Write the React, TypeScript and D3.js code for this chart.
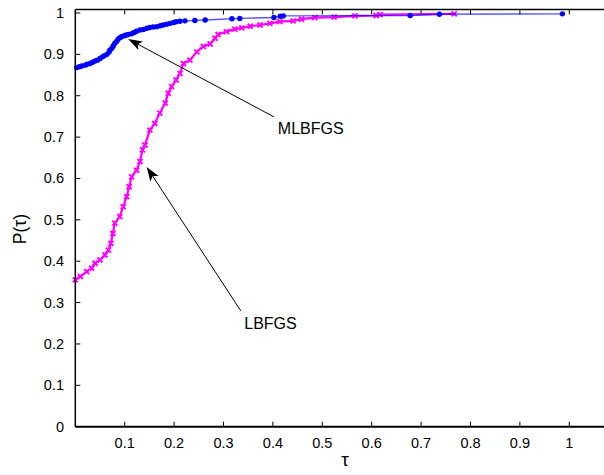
import React, { useRef, useEffect } from "react";
import * as d3 from "d3";

const W = 604;
const H = 475;
const FONT = "'Liberation Sans', Arial, sans-serif";

// MLBFGS profile (blue, dots)
const mlbfgsTau = [
  0.003, 0.008, 0.013, 0.02, 0.024, 0.03, 0.035, 0.04, 0.045, 0.05, 0.055,
  0.059, 0.064, 0.068, 0.07, 0.074, 0.077, 0.08, 0.084, 0.087, 0.091, 0.094,
  0.099, 0.103, 0.107, 0.114, 0.119, 0.124, 0.131, 0.138, 0.145, 0.151,
  0.158, 0.165, 0.172, 0.178, 0.185, 0.192, 0.199, 0.204, 0.212, 0.222,
  0.242, 0.263, 0.317, 0.333, 0.402, 0.415, 0.421, 0.678, 0.737, 0.986,
];
const mlbfgsP = [
  0.868, 0.87, 0.872, 0.874, 0.876, 0.878, 0.881, 0.884, 0.886, 0.89, 0.894,
  0.897, 0.9, 0.905, 0.91, 0.915, 0.921, 0.927, 0.932, 0.937, 0.941, 0.943,
  0.945, 0.947, 0.948, 0.95, 0.953, 0.956, 0.959, 0.96, 0.963, 0.965, 0.966,
  0.967, 0.969, 0.971, 0.973, 0.975, 0.977, 0.979, 0.98, 0.981, 0.982, 0.983,
  0.986, 0.987, 0.989, 0.992, 0.993, 0.994, 0.997, 0.998,
];

// LBFGS profile (magenta, crosses)
const lbfgsTau = [
  0.0, 0.01, 0.023, 0.033, 0.04, 0.05, 0.06, 0.067, 0.072, 0.076, 0.08, 0.09,
  0.097, 0.104, 0.109, 0.114, 0.124, 0.131, 0.136, 0.141, 0.151, 0.161, 0.171,
  0.182, 0.188, 0.195, 0.204, 0.212, 0.219, 0.232, 0.246, 0.259, 0.273,
  0.283, 0.289, 0.306, 0.323, 0.337, 0.354, 0.374, 0.394, 0.414, 0.441,
  0.458, 0.485, 0.524, 0.566, 0.609, 0.617, 0.767,
];
const lbfgsP = [
  0.355, 0.363, 0.375, 0.383, 0.395, 0.403, 0.415, 0.427, 0.443, 0.467, 0.492,
  0.508, 0.532, 0.556, 0.58, 0.604, 0.62, 0.641, 0.669, 0.681, 0.717, 0.733,
  0.758, 0.782, 0.806, 0.822, 0.838, 0.854, 0.878, 0.886, 0.906, 0.919,
  0.925, 0.939, 0.948, 0.955, 0.961, 0.964, 0.968, 0.971, 0.975, 0.979,
  0.981, 0.985, 0.989, 0.99, 0.993, 0.994, 0.996, 0.998,
];

const xTicks = [0.1, 0.2, 0.3, 0.4, 0.5, 0.6, 0.7, 0.8, 0.9, 1];
const yTicks = [0, 0.1, 0.2, 0.3, 0.4, 0.5, 0.6, 0.7, 0.8, 0.9, 1];

// annotations: label, text anchor point, arrow start, arrow tip (data coords)
const notes = [
  { label: "MLBFGS", text: [0.41, 0.708], from: [0.402, 0.749], to: [0.107, 0.937] },
  { label: "LBFGS", text: [0.342, 0.237], from: [0.335, 0.28], to: [0.1445, 0.628] },
];

const BLUE = "#0000ff";
const MAGENTA = "#ff00ff";

export default function App() {
  const ref = useRef<SVGSVGElement>(null);

  useEffect(() => {
    const svg = d3.select(ref.current);
    svg.selectAll("*").remove();

    const x = d3.scaleLinear().domain([0, 1.1]).range([75.3, 618.7]);
    const y = d3.scaleLinear().domain([0, 1]).range([426.7, 13]);
    const top = y(1.0085);

    const g = svg.append("g");

    // series lines
    const ln = d3
      .line<[number, number]>()
      .x((d) => x(d[0]))
      .y((d) => y(d[1]));

    const mag = lbfgsTau.map((t, i) => [t, lbfgsP[i]] as [number, number]);
    const blu = mlbfgsTau.map((t, i) => [t, mlbfgsP[i]] as [number, number]);

    g.append("path")
      .datum(mag)
      .attr("fill", "none")
      .attr("stroke", MAGENTA)
      .attr("stroke-width", 2.2)
      .attr("d", ln);

    g.selectAll(".xm")
      .data(mag)
      .enter()
      .append("path")
      .attr("stroke", MAGENTA)
      .attr("stroke-width", 1.9)
      .attr("fill", "none")
      .attr("d", (d) => {
        const cx = x(d[0]);
        const cy = y(d[1]);
        const s = 2.5;
        return `M${cx - s},${cy - s}L${cx + s},${cy + s}M${cx - s},${cy + s}L${cx + s},${cy - s}`;
      });

    g.append("path")
      .datum(blu)
      .attr("fill", "none")
      .attr("stroke", BLUE)
      .attr("stroke-opacity", 0.65)
      .attr("stroke-width", 1.4)
      .attr("d", ln);

    g.selectAll(".dot")
      .data(blu)
      .enter()
      .append("circle")
      .attr("cx", (d) => x(d[0]))
      .attr("cy", (d) => y(d[1]))
      .attr("r", 2.7)
      .attr("fill", BLUE);

    // frame
    const ax = svg.append("g").attr("stroke", "#000");
    ax.append("line")
      .attr("x1", x(0)).attr("x2", W + 2)
      .attr("y1", y(0)).attr("y2", y(0))
      .attr("stroke-width", 2);
    ax.append("line")
      .attr("x1", x(0)).attr("x2", W + 2)
      .attr("y1", top).attr("y2", top)
      .attr("stroke-width", 1.5);
    ax.append("line")
      .attr("x1", x(0)).attr("x2", x(0))
      .attr("y1", top).attr("y2", y(0))
      .attr("stroke-width", 1.5);

    xTicks.forEach((t) => {
      ax.append("line")
        .attr("x1", x(t)).attr("x2", x(t))
        .attr("y1", y(0)).attr("y2", y(0) - 5)
        .attr("stroke-width", 1);
      ax.append("line")
        .attr("x1", x(t)).attr("x2", x(t))
        .attr("y1", top).attr("y2", top + 5)
        .attr("stroke-width", 1);
    });
    yTicks.forEach((t) => {
      ax.append("line")
        .attr("x1", x(0)).attr("x2", x(0) + 5)
        .attr("y1", y(t)).attr("y2", y(t))
        .attr("stroke-width", 1);
    });

    const txt = svg.append("g").attr("font-family", FONT).attr("fill", "#000");
    xTicks.forEach((t) => {
      txt.append("text")
        .attr("x", x(t)).attr("y", 447.5)
        .attr("text-anchor", "middle")
        .attr("font-size", 14.5)
        .text(String(t));
    });
    yTicks.forEach((t) => {
      txt.append("text")
        .attr("x", 64).attr("y", y(t) + 5)
        .attr("text-anchor", "end")
        .attr("font-size", 14.5)
        .text(String(t));
    });

    txt.append("text")
      .attr("x", 345).attr("y", 466)
      .attr("text-anchor", "middle")
      .attr("font-size", 19)
      .text("τ");
    txt.append("text")
      .attr("transform", "translate(26,229) rotate(-90)")
      .attr("text-anchor", "middle")
      .attr("font-size", 17.5)
      .text("P(τ)");

    // annotations
    notes.forEach((n) => {
      const x1 = x(n.from[0]);
      const y1 = y(n.from[1]);
      const x2 = x(n.to[0]);
      const y2 = y(n.to[1]);
      const a = Math.atan2(y2 - y1, x2 - x1);
      const L = 15;
      const hw = 0.33;
      const bx1 = x2 - L * Math.cos(a - hw);
      const by1 = y2 - L * Math.sin(a - hw);
      const bx2 = x2 - L * Math.cos(a + hw);
      const by2 = y2 - L * Math.sin(a + hw);
      const nx = x2 - L * 0.72 * Math.cos(a);
      const ny = y2 - L * 0.72 * Math.sin(a);
      svg.append("line")
        .attr("x1", x1).attr("y1", y1)
        .attr("x2", nx).attr("y2", ny)
        .attr("stroke", "#000").attr("stroke-width", 1);
      svg.append("path")
        .attr("d", `M${x2},${y2}L${bx1},${by1}L${nx},${ny}L${bx2},${by2}Z`)
        .attr("fill", "#000");
      txt.append("text")
        .attr("x", x(n.text[0])).attr("y", y(n.text[1]))
        .attr("font-size", 16)
        .text(n.label);
    });
  }, []);

  return (
    <svg
      ref={ref}
      width={W}
      height={H}
      style={{ position: "fixed", left: 0, top: 0, background: "#fff" }}
    />
  );
}
